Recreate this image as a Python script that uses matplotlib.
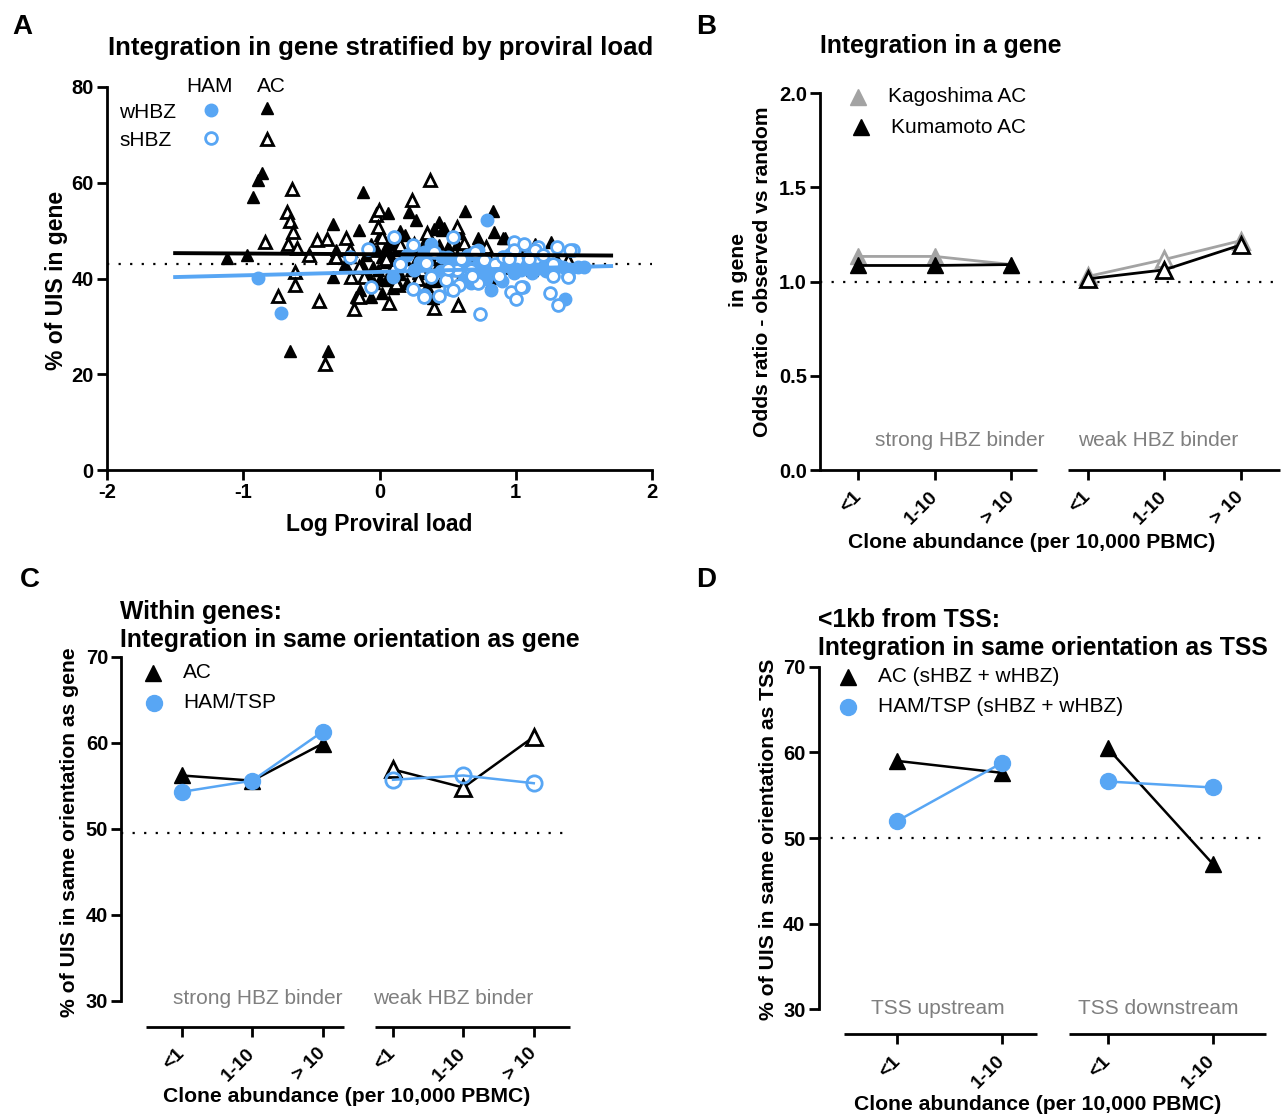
import matplotlib
matplotlib.use('Agg')
import matplotlib.pyplot as plt

plt.rcParams['font.family'] = ['Liberation Sans', 'DejaVu Sans']
plt.rcParams['axes.unicode_minus'] = False

# ---------------- data ----------------
# Panel A: (log proviral load, % of UIS in gene)
ac_w_x = [-1.12, -0.97, -0.86, -0.89, -0.93, -0.66, -0.38, -0.34, -0.34, -0.32, -0.12, -0.15, 0.06, 0.22,
          0.27, 0.44, 0.40, 0.47, 0.63, 0.83, 0.84, 0.91, 0.64, 0.92, 1.05, 1.14, 1.26, 0.39, 0.72, 0.44,
          -0.13, -0.06, -0.02, 0.02, 0.045, 0.085, 0.12, 0.19, 0.23, 0.28, 0.32, 0.36, 0.42, 0.50, 0.53,
          0.57, 0.67, 0.82, 1.04, 1.12, 1.20, -0.17, -0.14, -0.06, -0.04, 0.045, 0.20, 0.23, 0.46, 0.58,
          -0.22, 0.46, 0.72, 1.30, 1.40, 0.57, -0.01, 0.10, 0.28,
          -0.05, 0.00, 0.05, 0.08, 0.12, 0.15, 0.18, 0.25, 0.30, 0.33, 0.38, 0.40, 0.45, -0.10, -0.08,
          0.00, 0.10, 0.35, 0.55, 0.60, 0.68, 0.75, -0.25, 0.02, 0.15]
ac_w_y = [44.2, 45.0, 62.1, 60.5, 57.1, 24.9, 24.9, 51.4, 40.4, 45.9, 58.0, 50.1, 53.7, 53.8,
          52.2, 51.8, 50.4, 50.6, 54.1, 54.0, 49.8, 48.4, 46.3, 48.4, 47.3, 47.3, 47.7, 36.0, 48.4, 47.0,
          43.1, 47.3, 45.9, 44.5, 43.5, 44.5, 45.9, 49.1, 46.6, 44.5, 42.4, 41.8, 42.4, 46.6, 44.5,
          41.8, 44.5, 39.0, 46.6, 41.8, 43.5, 36.2, 37.6, 36.2, 39.0, 39.7, 39.0, 41.8, 50.1, 49.4,
          44.5, 39.7, 41.8, 43.8, 43.1, 47.3, 41.8, 47.3, 41.1,
          42.5, 40.0, 46.5, 48.0, 43.0, 41.0, 44.0, 43.0, 45.5, 47.5, 44.0, 39.5, 43.0, 45.0, 40.5,
          49.0, 38.0, 38.5, 43.0, 40.5, 42.0, 44.5, 43.0, 37.0, 50.0]

ac_s_x = [-0.644, -0.68, -0.655, -0.636, -0.844, -0.673, -0.607, -0.46, -0.387, -0.519, -0.617, -0.617,
          -0.743, -0.445, -0.40, -0.245, -0.208, -0.19, -0.147, -0.024, -0.007, 0.367, 0.237, 0.575,
          0.134, 0.073, 0.78, -0.33, 0.40, -0.06, 0.02, 0.10, 0.17, 0.25, 0.36, 0.44, 0.57, 0.80, 0.91,
          1.14, -0.115, 0.12, 0.305, 0.70, 0.80, -0.22, -0.32, -0.01, 0.57, 1.38,
          0.05, 0.15, 0.28, 0.48, 0.62, -0.15, 0.35]
ac_s_y = [58.7, 53.8, 52.1, 49.8, 47.7, 47.2, 46.3, 48.0, 48.2, 44.9, 41.4, 38.6,
          36.4, 35.3, 22.1, 48.4, 40.4, 33.7, 36.2, 53.2, 54.3, 60.5, 56.4, 34.4,
          38.6, 34.8, 46.6, 44.4, 33.9, 45.9, 48.7, 42.4, 44.5, 47.3, 45.9, 44.5, 44.5, 43.8, 42.4,
          45.9, 40.4, 39.0, 41.8, 41.8, 40.4, 45.9, 44.5, 50.8, 50.8, 43.8,
          44.0, 47.0, 40.0, 41.0, 47.5, 42.5, 49.5]

ham_w_x = [-0.89, -0.724, 0.788, 1.36, 0.38, 0.33, 0.46, 0.57, 0.645, 0.72, 0.80, 0.82, 0.88, 0.96,
           0.985, 1.04, 1.12, 1.20, 1.27, 1.35, 1.46, 0.67, 0.10, 0.62, 1.09, 0.72, 0.96, 0.54, 0.25,
           0.55, 0.62, 0.70, 0.75, 0.85, 0.92, 1.00, 1.08, 1.15, 1.22, 1.30, 1.40, 1.50, 0.78, 0.90,
           0.45, 0.50, 0.65, 0.30, 0.20]
ham_w_y = [40.2, 32.8, 52.3, 35.8, 47.3, 45.6, 44.5, 43.5, 42.4, 43.1, 41.8, 37.6, 41.8, 42.4,
           41.1, 41.8, 41.1, 42.4, 41.8, 42.4, 42.4, 39.0, 40.4, 39.7, 44.5, 45.9, 45.2, 41.8, 41.8,
           42.5, 43.5, 42.0, 41.0, 42.5, 43.0, 42.0, 42.8, 42.0, 41.5, 42.8, 42.0, 42.3, 40.0, 39.5,
           41.5, 44.5, 45.0, 43.5, 45.0]

ham_s_x = [-0.215, -0.086, -0.061, 0.11, 0.245, 0.538, 0.147, 0.343, 0.245, 0.33, 0.435, 0.514, 0.587,
           0.734, 0.99, 1.16, 1.30, 1.42, 0.967, 1.0, 1.05, 1.25, 1.31, 1.38, 1.27, 0.15, 0.38, 0.49,
           0.57, 0.67, 0.77, 0.85, 0.91, 0.985, 1.06, 1.14, 1.27, 1.38, 0.70, 0.54, 0.33, 1.04, 1.40, 0.72,
           0.60, 0.68, 0.88, 0.95, 1.10, 1.20, 0.40, 0.50]
ham_s_y = [44.5, 46.1, 38.3, 48.6, 47.0, 48.7, 43.0, 43.2, 37.9, 36.5, 36.3, 37.9, 38.6,
           32.6, 47.7, 46.6, 46.6, 45.9, 37.2, 35.8, 38.3, 36.9, 34.4, 40.5, 40.5, 43.1, 40.4, 39.7,
           41.8, 41.8, 43.8, 43.1, 44.5, 45.9, 47.3, 45.9, 43.1, 40.4, 45.5, 37.6, 36.2, 38.3, 45.9, 39.0,
           44.0, 40.5, 40.5, 44.0, 44.0, 45.0, 45.5, 42.0]

fit_x = [-1.5, 1.7]
ac_fit = [45.3, 44.8]
ham_fit = [40.3, 42.6]
a_ref = 43.0

# Panel B
b_labels = ['<1', '1-10', '> 10', '<1', '1-10', '> 10']
kago_strong = [1.133, 1.133, 1.09]
kago_weak = [1.027, 1.117, 1.217]
kuma_strong = [1.085, 1.085, 1.09]
kuma_weak = [1.014, 1.062, 1.194]

# Panel C
c_labels = ['<1', '1-10', '> 10', '<1', '1-10', '> 10']
c_ac_strong = [56.2, 55.6, 59.9]
c_ham_strong = [54.3, 55.6, 61.3]
c_ac_weak = [56.9, 54.8, 60.7]
c_ham_weak = [55.7, 56.2, 55.3]
c_ref = 49.5

# Panel D
d_labels = ['<1', '1-10', '<1', '1-10']
d_ac_up = [59.0, 57.6]
d_ham_up = [52.0, 58.8]
d_ac_down = [60.5, 47.0]
d_ham_down = [56.6, 55.9]
d_ref = 50.0

# ---------------- layout ----------------
W, H = 1282, 1115
fig = plt.figure(figsize=(W / 100, H / 100), dpi=100)


def rect(l, t, r, b):
    return [l / W, 1 - b / H, (r - l) / W, (b - t) / H]


def fx(px):
    return px / W


def fy(py):
    return 1 - py / H


BLUE = '#58A6F4'
GREY = '#A3A3A3'
TGREY = '#7F7F7F'
TICKFS = 14.5
XTICKFS = 14
LABFS = 15.2
LABFS_A = 16.5
TITFS = 17.8
TITFS_A = 18.5
LEGFS = 15


def style(ax, xlabels=None):
    for s in ['top', 'right']:
        ax.spines[s].set_visible(False)
    for s in ['left', 'bottom']:
        ax.spines[s].set_linewidth(2)
    ax.tick_params(width=2, length=7.5, labelsize=TICKFS, direction='out', pad=2)
    for lab in ax.get_yticklabels():
        lab.set_fontweight('bold')
    if xlabels is not None:
        ax.set_xticklabels(xlabels, rotation=45, ha='right', va='center',
                           rotation_mode='anchor', fontweight='bold', fontsize=XTICKFS)
        ax.tick_params(axis='x', pad=10)
    else:
        for lab in ax.get_xticklabels():
            lab.set_fontweight('bold')


def dotted(ax, y, x0, x1):
    ax.plot([x0, x1], [y, y], color='black', lw=1.6, ls=(0, (1, 4.2)), zorder=1)


def fig_marker(px, py, **kw):
    fig.add_artist(plt.Line2D([fx(px)], [fy(py)], transform=fig.transFigure, **kw))


def broken_bottom(ax, segs):
    tr = ax.get_xaxis_transform(which='tick1')
    for a, b in segs:
        ax.plot([a, b], [0, 0], color='black', lw=2, transform=tr, clip_on=False,
                solid_capstyle='butt')


# ---------------- Panel A ----------------
axA = fig.add_axes(rect(107, 87, 652, 470))
axA.set_xlim(-2, 2)
axA.set_ylim(0, 80)
axA.set_xticks([-2, -1, 0, 1, 2])
axA.set_yticks([0, 20, 40, 60, 80])
style(axA)
dotted(axA, a_ref, -2, 2)
axA.plot(ac_w_x, ac_w_y, ls='none', marker='^', ms=9, color='black', zorder=3, clip_on=False)
axA.plot(ac_s_x, ac_s_y, ls='none', marker='^', ms=8.5, mfc='white', mec='black', mew=2, zorder=3)
axA.plot(ham_w_x, ham_w_y, ls='none', marker='o', ms=9, color=BLUE, zorder=4)
axA.plot(ham_s_x, ham_s_y, ls='none', marker='o', ms=8.5, mfc='white', mec=BLUE, mew=2, zorder=4)
axA.plot(fit_x, ac_fit, color='black', lw=2.8, zorder=5)
axA.plot(fit_x, ham_fit, color=BLUE, lw=2.8, zorder=5)

fig.text(fx(381), fy(48), 'Integration in gene stratified by proviral load', ha='center', va='center',
         fontsize=TITFS_A, fontweight='bold')
fig.text(fx(379), fy(525), 'Log Proviral load', ha='center', va='center', fontsize=LABFS_A, fontweight='bold')
fig.text(fx(57), fy(280), '% of UIS in gene', ha='center', va='center', rotation=90,
         fontsize=LABFS_A, fontweight='bold')
fig.text(fx(210), fy(87), 'HAM', ha='center', va='center', fontsize=LEGFS)
fig.text(fx(271), fy(87), 'AC', ha='center', va='center', fontsize=LEGFS)
fig.text(fx(148), fy(112), 'wHBZ', ha='center', va='center', fontsize=LEGFS)
fig.text(fx(146), fy(140), 'sHBZ', ha='center', va='center', fontsize=LEGFS)
fig_marker(211, 110, marker='o', ms=9, color=BLUE)
fig_marker(267, 108, marker='^', ms=9, color='black')
fig_marker(211, 138, marker='o', ms=8.5, mfc='white', mec=BLUE, mew=2)
fig_marker(267, 139, marker='^', ms=8.5, mfc='white', mec='black', mew=2)

# ---------------- Panel B ----------------
axB = fig.add_axes(rect(820, 93, 1280, 470))
axB.set_xlim(-0.503, 5.51)
axB.set_ylim(0, 2)
axB.set_yticks([0, 0.5, 1.0, 1.5, 2.0])
axB.set_yticklabels(['0.0', '0.5', '1.0', '1.5', '2.0'])
axB.set_xticks(range(6))
style(axB, b_labels)
axB.spines['bottom'].set_visible(False)
broken_bottom(axB, [(-0.503, 2.33), (2.74, 5.51)])
dotted(axB, 1.0, -0.5, 5.5)
xs_s = [0, 1, 2]
xs_w = [3, 4, 5]
axB.plot(xs_s, kago_strong, color=GREY, lw=2, marker='^', ms=11, zorder=3)
axB.plot(xs_w, kago_weak, color=GREY, lw=2, marker='^', ms=11, mfc='white', mec=GREY, mew=2, zorder=3)
axB.plot(xs_s, kuma_strong, color='black', lw=2, marker='^', ms=11, zorder=4)
axB.plot(xs_w, kuma_weak, color='black', lw=2, marker='^', ms=11, mfc='white', mec='black', mew=2, zorder=4)

fig.text(fx(820), fy(46), 'Integration in a gene', ha='left', va='center', fontsize=TITFS, fontweight='bold')
fig_marker(858, 97, marker='^', ms=11, color=GREY)
fig.text(fx(888), fy(97), 'Kagoshima AC', ha='left', va='center', fontsize=LEGFS)
fig_marker(861, 127, marker='^', ms=11, color='black')
fig.text(fx(891), fy(127), 'Kumamoto AC', ha='left', va='center', fontsize=LEGFS)
fig.text(fx(738), fy(270), 'in gene', ha='center', va='center', rotation=90, fontsize=LABFS, fontweight='bold')
fig.text(fx(763), fy(272), 'Odds ratio - observed vs random', ha='center', va='center', rotation=90,
         fontsize=LABFS, fontweight='bold')
fig.text(fx(960), fy(441), 'strong HBZ binder', ha='center', va='center', fontsize=LEGFS, color=TGREY)
fig.text(fx(1158), fy(441), 'weak HBZ binder', ha='center', va='center', fontsize=LEGFS, color=TGREY)
fig.text(fx(1032), fy(542), 'Clone abundance (per 10,000 PBMC)', ha='center', va='center',
         fontsize=LABFS, fontweight='bold')

# ---------------- Panel C ----------------
axC = fig.add_axes(rect(121.4, 656.7, 576, 1001))
axC.set_xlim(-0.86, 5.6)
axC.set_ylim(30, 70)
axC.set_yticks([30, 40, 50, 60, 70])
axC.set_xticks(range(6))
axC.spines['bottom'].set_position(('outward', 18.5))
style(axC, c_labels)
axC.spines['bottom'].set_visible(False)
broken_bottom(axC, [(-0.51, 2.30), (2.74, 5.51)])
dotted(axC, c_ref, -0.86, 5.47)
axC.plot(xs_s, c_ac_strong, color='black', lw=1.8, marker='^', ms=11, zorder=3, clip_on=False)
axC.plot(xs_s, c_ham_strong, color=BLUE, lw=1.8, marker='o', ms=11.5, zorder=4, clip_on=False)
axC.plot(xs_w, c_ac_weak, color='black', lw=1.8, marker='^', ms=11, mfc='white', mec='black', mew=2,
         zorder=3, clip_on=False)
axC.plot(xs_w, c_ham_weak, color=BLUE, lw=1.8, marker='o', ms=11, mfc='none', mec=BLUE, mew=2,
         zorder=4, clip_on=False)

fig.text(fx(120), fy(612), 'Within genes:', ha='left', va='center', fontsize=TITFS, fontweight='bold')
fig.text(fx(120), fy(640), 'Integration in same orientation as gene', ha='left', va='center',
         fontsize=TITFS, fontweight='bold')
fig_marker(153, 673, marker='^', ms=11, color='black')
fig.text(fx(183), fy(673), 'AC', ha='left', va='center', fontsize=LEGFS)
fig_marker(154, 703, marker='o', ms=11.5, color=BLUE)
fig.text(fx(183), fy(703), 'HAM/TSP', ha='left', va='center', fontsize=LEGFS)
fig.text(fx(70), fy(832), '% of UIS in same orientation as gene', ha='center', va='center', rotation=90,
         fontsize=LABFS, fontweight='bold')
fig.text(fx(258), fy(998), 'strong HBZ binder', ha='center', va='center', fontsize=LEGFS, color=TGREY)
fig.text(fx(453), fy(998), 'weak HBZ binder', ha='center', va='center', fontsize=LEGFS, color=TGREY)
fig.text(fx(347), fy(1097), 'Clone abundance (per 10,000 PBMC)', ha='center', va='center',
         fontsize=LABFS, fontweight='bold')

# ---------------- Panel D ----------------
axD = fig.add_axes(rect(818.6, 666.7, 1270.4, 1009.3))
axD.set_xlim(-0.75, 3.55)
axD.set_ylim(30, 70)
axD.set_yticks([30, 40, 50, 60, 70])
axD.set_xticks(range(4))
axD.spines['bottom'].set_position(('outward', 18))
style(axD, d_labels)
axD.spines['bottom'].set_visible(False)
broken_bottom(axD, [(-0.51, 1.33), (1.63, 3.51)])
dotted(axD, d_ref, -0.75, 3.47)
axD.plot([0, 1], d_ac_up, color='black', lw=1.8, marker='^', ms=11, zorder=3, clip_on=False)
axD.plot([0, 1], d_ham_up, color=BLUE, lw=1.8, marker='o', ms=11.5, zorder=4, clip_on=False)
axD.plot([2, 3], d_ac_down, color='black', lw=1.8, marker='^', ms=11, zorder=3, clip_on=False)
axD.plot([2, 3], d_ham_down, color=BLUE, lw=1.8, marker='o', ms=11.5, zorder=4, clip_on=False)

fig.text(fx(818), fy(620), '<1kb from TSS:', ha='left', va='center', fontsize=TITFS, fontweight='bold')
fig.text(fx(818), fy(648), 'Integration in same orientation as TSS', ha='left', va='center',
         fontsize=TITFS, fontweight='bold')
fig_marker(848, 677, marker='^', ms=11, color='black')
fig.text(fx(878), fy(677), 'AC (sHBZ + wHBZ)', ha='left', va='center', fontsize=LEGFS)
fig_marker(848, 707, marker='o', ms=11.5, color=BLUE)
fig.text(fx(878), fy(707), 'HAM/TSP (sHBZ + wHBZ)', ha='left', va='center', fontsize=LEGFS)
fig.text(fx(768), fy(839), '% of UIS in same orientation as TSS', ha='center', va='center', rotation=90,
         fontsize=LABFS, fontweight='bold')
fig.text(fx(938), fy(1008), 'TSS upstream', ha='center', va='center', fontsize=LEGFS, color=TGREY)
fig.text(fx(1158), fy(1008), 'TSS downstream', ha='center', va='center', fontsize=LEGFS, color=TGREY)
fig.text(fx(1038), fy(1104), 'Clone abundance (per 10,000 PBMC)', ha='center', va='center',
         fontsize=LABFS, fontweight='bold')

# panel letters
for letter, px, py in [('A', 22, 27), ('B', 706, 27), ('C', 30, 580), ('D', 706, 580)]:
    fig.text(fx(px), fy(py), letter, ha='center', va='center', fontsize=20, fontweight='bold')

fig.savefig('out.png', dpi=100)
